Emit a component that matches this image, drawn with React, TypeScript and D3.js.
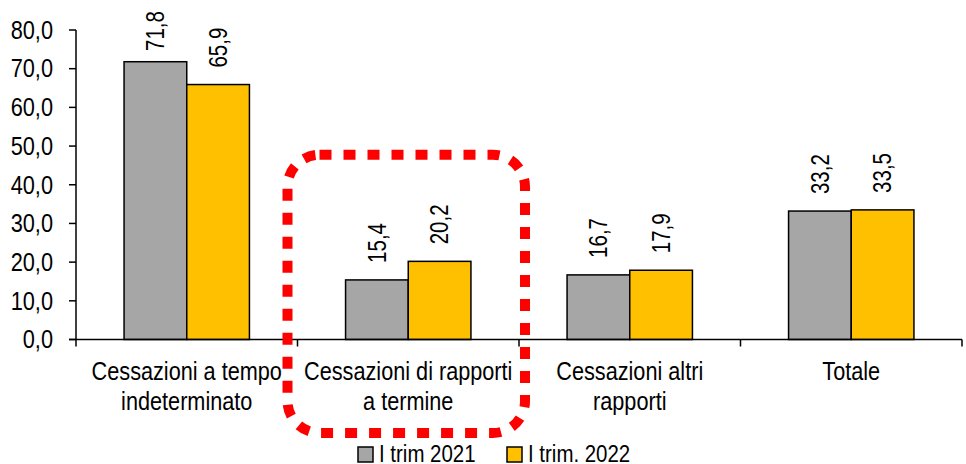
import React from "react";
import * as d3 from "d3";

const categories: string[][] = [
  ["Cessazioni a tempo", "indeterminato"],
  ["Cessazioni di rapporti", "a termine"],
  ["Cessazioni altri", "rapporti"],
  ["Totale"],
];
const seriesNames = ["I trim 2021", "I trim. 2022"];
const values2021 = [71.8, 15.4, 16.7, 33.2];
const values2022 = [65.9, 20.2, 17.9, 33.5];
const yTicks = [0, 10, 20, 30, 40, 50, 60, 70, 80];
const highlightIndex = 1;

const COLORS = ["#A6A6A6", "#FFC000"];
const FONT = "'Liberation Sans', Arial, sans-serif";

const fmt = (v: number) => v.toFixed(1).replace(".", ",");

export default function App() {
  const W = 966;
  const H = 464;
  const left = 76;
  const right = 962;
  const top = 30;
  const base = 339.5;

  const keys = categories.map((_, i) => String(i));
  const x = d3.scaleBand<string>().domain(keys).range([left, right]).paddingInner(0).paddingOuter(0);
  const bw = x.bandwidth();
  const inner = d3
    .scaleBand<string>()
    .domain(["0", "1"])
    .range([bw * 0.217, bw * 0.783])
    .padding(0);
  const y = d3.scaleLinear().domain([0, 80]).range([base, top]);

  const series = [values2021, values2022];
  const boundaries = keys.map((k) => x(k)!).concat([right]);

  const hx0 = x(String(highlightIndex))! - 10;
  const hx1 = x(String(highlightIndex))! + bw + 6;
  const hy0 = y(48) + 1;
  const hy1 = 433;

  return (
    <svg
      width={W}
      height={H}
      style={{ position: "absolute", left: 0, top: 0, background: "#fff" }}
      fontFamily={FONT}
    >
      <rect x={0} y={0} width={W} height={H} fill="#fff" />
      {/* bars */}
      {series.map((vals, si) =>
        vals.map((v, ci) => {
          const bx = x(String(ci))! + inner(String(si))!;
          return (
            <rect
              key={`b${si}-${ci}`}
              x={bx}
              y={y(v)}
              width={inner.bandwidth()}
              height={base - y(v)}
              fill={COLORS[si]}
              stroke="#000"
              strokeWidth={1.5}
            />
          );
        })
      )}
      {/* data labels */}
      {series.map((vals, si) =>
        vals.map((v, ci) => {
          const cx = x(String(ci))! + inner(String(si))! + inner.bandwidth() / 2;
          const ly = Math.max(y(v) - 17, 51);
          return (
            <text
              key={`l${si}-${ci}`}
              transform={`translate(${cx},${ly}) rotate(-90) scale(0.82,1)`}
              dy="0.35em"
              fontSize={25}
              fill="#000"
            >
              {fmt(v)}
            </text>
          );
        })
      )}
      {/* axes */}
      <line x1={left} x2={left} y1={top} y2={base} stroke="#000" strokeWidth={1.5} />
      <line x1={left - 7} x2={right} y1={base} y2={base} stroke="#000" strokeWidth={1.5} />
      {yTicks.map((t) => (
        <g key={`yt${t}`}>
          <line x1={left - 7} x2={left} y1={y(t)} y2={y(t)} stroke="#000" strokeWidth={1.5} />
          <text
            transform={`translate(${left - 23},${y(t)}) scale(0.87,1)`}
            dy="0.35em"
            textAnchor="end"
            fontSize={25}
            fill="#000"
          >
            {fmt(t)}
          </text>
        </g>
      ))}
      {boundaries.map((bx, i) => (
        <line key={`xt${i}`} x1={bx} x2={bx} y1={base} y2={base + 7} stroke="#000" strokeWidth={1.5} />
      ))}
      {categories.map((lines, ci) =>
        lines.map((ln, li) => (
          <text
            key={`c${ci}-${li}`}
            transform={`translate(${x(String(ci))! + bw / 2},${380 + li * 30}) scale(0.85,1)`}
            textAnchor="middle"
            fontSize={25.5}
            fill="#000"
          >
            {ln}
          </text>
        ))
      )}
      {/* highlight annotation */}
      <rect
        x={hx0}
        y={hy0}
        width={hx1 - hx0}
        height={hy1 - hy0}
        rx={32}
        ry={32}
        fill="none"
        stroke="#FF0000"
        strokeWidth={10}
        strokeDasharray="12 12"
      />
      {/* legend */}
      {seriesNames.map((name, i) => {
        const lx = i === 0 ? 358 : 507;
        return (
          <g key={`lg${i}`}>
            <rect x={lx} y={447} width={15} height={15} fill={COLORS[i]} stroke="#000" strokeWidth={1.5} />
            <text
              transform={`translate(${lx + 21},461.5) scale(0.87,1)`}
              fontSize={23.5}
              fill="#000"
            >
              {name}
            </text>
          </g>
        );
      })}
    </svg>
  );
}
